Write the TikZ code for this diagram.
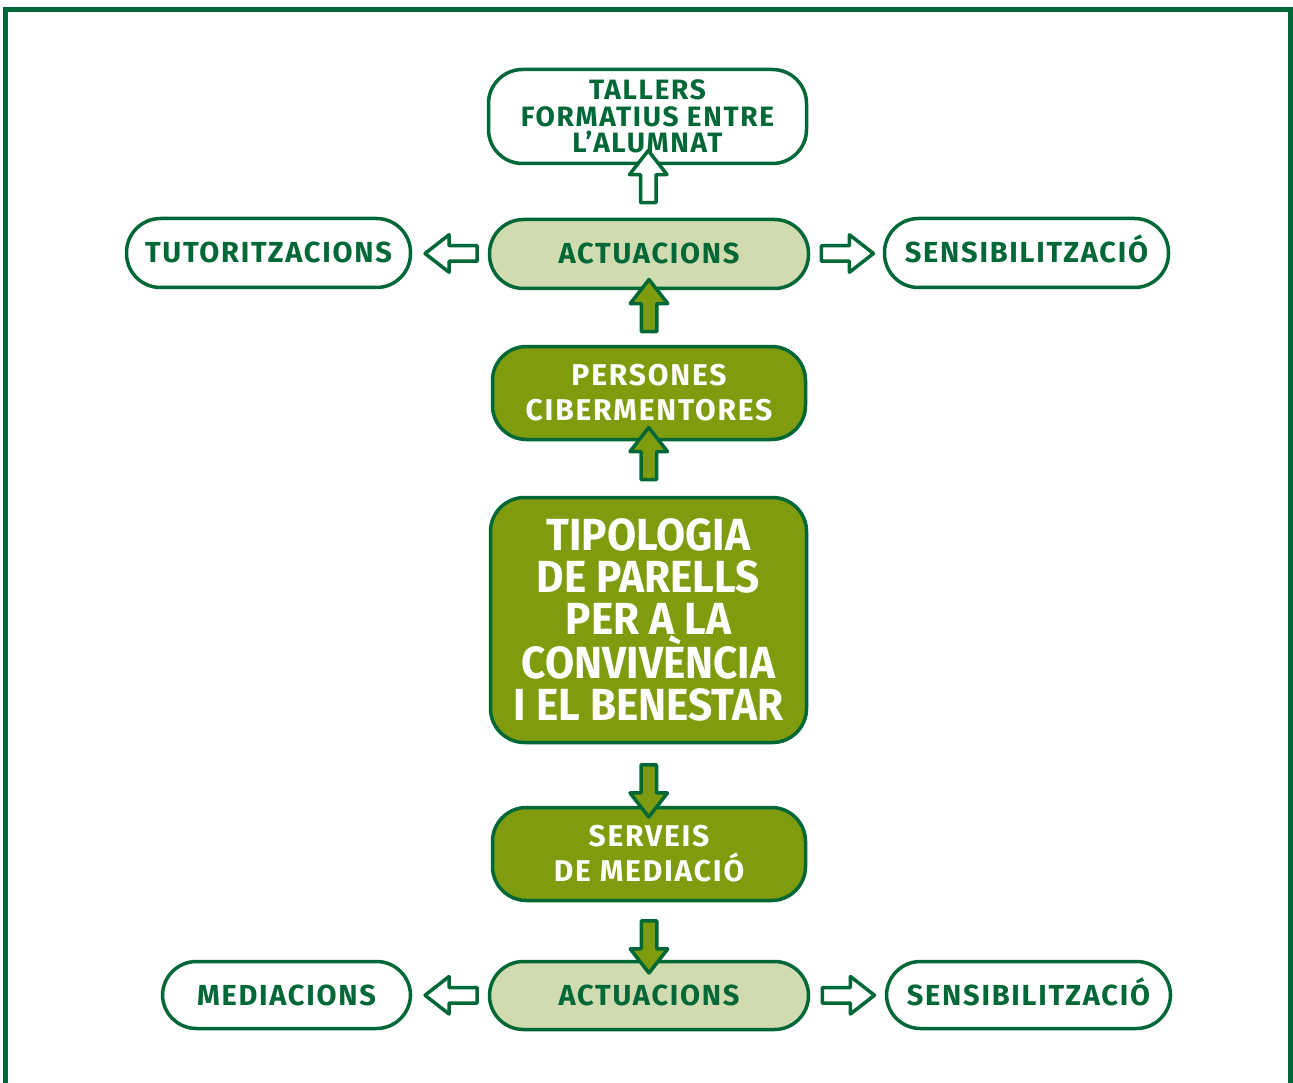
\documentclass[tikz,border=0pt]{standalone}
\usepackage{fontspec}
\setmainfont{Fira Sans}[LetterSpace=6]
\newfontfamily\titlefont{Fira Sans}[FakeStretch=0.94]
\usetikzlibrary{shapes.arrows,calc}

\definecolor{dkgreen}{RGB}{0,104,55}
\definecolor{olivebox}{RGB}{127,156,14}
\definecolor{lightbox}{RGB}{208,219,176}

\begin{document}
\begin{tikzpicture}[x=1pt,y=-1pt]
\tikzstyle{box}=[draw=dkgreen, line width=3.5pt, rounded corners=34pt, align=center, inner sep=0pt, font=\bfseries\fontsize{29}{26}\selectfont];
\tikzstyle{one}=[text height=20pt, text depth=0pt];
\tikzstyle{wbox}=[box, fill=white, text=dkgreen];
\tikzstyle{lbox}=[box, fill=lightbox, text=dkgreen];
\tikzstyle{obox}=[box, fill=olivebox, text=white];
\tikzstyle{blk}=[single arrow, draw=dkgreen, line width=3.5pt, inner sep=6pt, minimum height=52pt, single arrow head extend=11pt, single arrow tip angle=76, line join=round];
\tikzstyle{wa}=[blk, fill=white];
\tikzstyle{oa}=[blk, fill=olivebox];

\useasboundingbox (0,0) rectangle (1293,1083);
\draw[dkgreen, line width=5pt] (5.5,1083) -- (5.5,10) -- (1290,10) -- (1290,1083);

% upper branch
\node[wbox, minimum width=318pt, minimum height=94pt, font=\bfseries\fontsize{28}{26.5}\selectfont] (tallers) at (647.5,116.5) {TALLERS\\FORMATIUS ENTRE\\L'ALUMNAT};
\node[lbox, one, minimum width=319pt, minimum height=69pt] (act1) at (649,254) {ACTUACIONS};
\node[wbox, one, minimum width=284pt, minimum height=69pt] (tutor) at (268.5,253) {TUTORITZACIONS};
\node[wbox, one, minimum width=284pt, minimum height=69pt] (sens1) at (1026.5,253) {SENSIBILITZACIÓ};
\node[obox, minimum width=313pt, minimum height=93pt, font=\bfseries\fontsize{30}{35}\selectfont] (pers) at (649,393) {PERSONES\\CIBERMENTORES};

% centre
\node[obox, minimum width=316pt, minimum height=245pt, font=\titlefont\bfseries\fontsize{45}{42}\selectfont] (tipo) at (648.5,620) {TIPOLOGIA\\DE PARELLS\\PER A LA\\CONVIVÈNCIA\\I EL BENESTAR};

% lower branch
\node[obox, minimum width=313pt, minimum height=93pt, font=\bfseries\fontsize{30}{35}\selectfont] (serv) at (649,854) {SERVEIS\\DE MEDIACIÓ};
\node[lbox, one, minimum width=319pt, minimum height=68pt] (act2) at (649,995.5) {ACTUACIONS};
\node[wbox, one, minimum width=248pt, minimum height=67pt] (medi) at (286.5,995) {MEDIACIONS};
\node[wbox, one, minimum width=284pt, minimum height=67pt] (sens2) at (1028.5,995) {SENSIBILITZACIÓ};

% arrows
\node[wa, shape border rotate=90] (a1) at ($(tallers.south)!0.5!(act1.north)$) [yshift=10pt] {};
\node[wa, shape border rotate=180] (a2) at ($(tutor.east)!0.5!(act1.west)$) [xshift=6pt] {};
\node[wa] (a3) at ($(act1.east)!0.5!(sens1.west)$) [xshift=-4pt] {};
\node[oa, shape border rotate=90] (a4) at ($(act1.south)!0.5!(pers.north)$) [yshift=7pt] {};
\node[oa, shape border rotate=90] (a5) at ($(pers.south)!0.5!(tipo.north)$) [yshift=10pt] {};
\node[oa, shape border rotate=270] (a6) at ($(tipo.south)!0.5!(serv.north)$) [yshift=-11pt] {};
\node[oa, shape border rotate=270] (a7) at ($(serv.south)!0.5!(act2.north)$) [yshift=-11pt] {};
\node[wa, shape border rotate=180] (a8) at ($(medi.east)!0.5!(act2.west)$) [xshift=6pt] {};
\node[wa] (a9) at ($(act2.east)!0.5!(sens2.west)$) [xshift=-4pt] {};
\end{tikzpicture}
\end{document}
